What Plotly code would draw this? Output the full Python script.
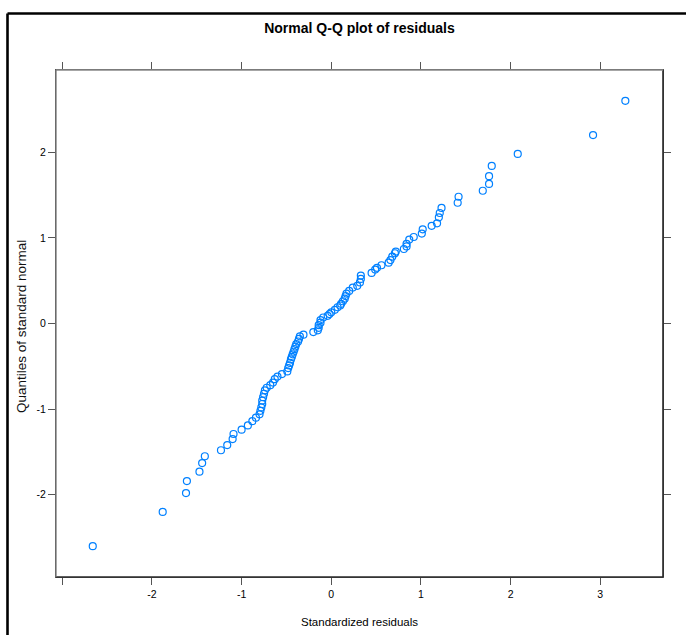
import plotly.graph_objects as go

# Standardized residuals (x) against quantiles of the standard normal (y)
std_residuals = [
    -2.66, -1.88, -1.62, -1.61, -1.47, -1.44, -1.41, -1.23, -1.16, -1.10,
    -1.09, -1.00, -0.93, -0.88, -0.84, -0.80, -0.79, -0.78, -0.77, -0.77,
    -0.76, -0.75, -0.74, -0.72, -0.68, -0.65, -0.63, -0.60, -0.55, -0.49,
    -0.48, -0.47, -0.46, -0.45, -0.44, -0.43, -0.42, -0.41, -0.40, -0.39,
    -0.37, -0.36, -0.35, -0.31, -0.20, -0.15, -0.14, -0.14, -0.12, -0.12,
    -0.09, -0.04, -0.02, 0.00, 0.04, 0.07, 0.10, 0.11, 0.13, 0.15,
    0.16, 0.17, 0.20, 0.24, 0.29, 0.32, 0.33, 0.33, 0.45, 0.49,
    0.51, 0.56, 0.64, 0.66, 0.68, 0.71, 0.72, 0.81, 0.84, 0.84,
    0.87, 0.92, 1.01, 1.02, 1.12, 1.18, 1.20, 1.21, 1.23, 1.41,
    1.42, 1.69, 1.76, 1.76, 1.79, 2.08, 2.92, 3.28,
]
normal_quantiles = [
    -2.60, -2.20, -1.98, -1.84, -1.73, -1.63, -1.55, -1.48, -1.42, -1.35,
    -1.29, -1.24, -1.19, -1.14, -1.10, -1.06, -1.02, -0.98, -0.94, -0.90,
    -0.86, -0.82, -0.78, -0.75, -0.72, -0.69, -0.65, -0.62, -0.59, -0.56,
    -0.52, -0.49, -0.46, -0.42, -0.39, -0.36, -0.33, -0.30, -0.27, -0.24,
    -0.21, -0.18, -0.15, -0.13, -0.10, -0.08, -0.05, -0.02, 0.01, 0.04,
    0.07, 0.09, 0.11, 0.13, 0.16, 0.19, 0.21, 0.23, 0.26, 0.29,
    0.32, 0.35, 0.38, 0.42, 0.44, 0.48, 0.52, 0.56, 0.59, 0.63,
    0.65, 0.68, 0.71, 0.74, 0.78, 0.82, 0.84, 0.87, 0.90, 0.93,
    0.98, 1.01, 1.05, 1.10, 1.14, 1.17, 1.24, 1.29, 1.35, 1.41,
    1.48, 1.55, 1.63, 1.72, 1.84, 1.98, 2.20, 2.60,
]

x_ticks = [-3, -2, -1, 0, 1, 2, 3]
x_tick_labels = ["", "-2", "-1", "0", "1", "2", "3"]
y_ticks = [-2, -1, 0, 1, 2]
y_tick_labels = ["-2", "-1", "0", "1", "2"]

W, H = 686, 635
L, R, T, B = 56, 23, 70, 58
plot_w = W - L - R
plot_h = H - T - B

sans = "Liberation Sans, Arial, sans-serif"

fig = go.Figure()
fig.add_trace(go.Scatter(
    x=std_residuals, y=normal_quantiles, mode="markers",
    marker=dict(symbol="circle-open", size=7, color="#0080ff",
                line=dict(width=1.2, color="#0080ff")),
    showlegend=False, hoverinfo="x+y",
))

axis_common = dict(
    showgrid=False, zeroline=False, showline=True, mirror="ticks",
    linecolor="#555555", linewidth=1.3, ticks="outside", ticklen=7,
    tickwidth=1.2, tickcolor="#555555",
    tickfont=dict(family=sans, size=10.5, color="#000000"),
)

fig.update_layout(
    width=W, height=H, autosize=False,
    margin=dict(l=L, r=R, t=T, b=B, pad=0),
    paper_bgcolor="white", plot_bgcolor="white",
    title=dict(text="<b>Normal Q-Q plot of residuals</b>",
               font=dict(family=sans, size=14, color="#000000"),
               x=0.5, xanchor="center", xref="paper",
               y=1 - 28 / H, yanchor="middle", yref="container"),
    xaxis=dict(range=[-3.07, 3.70], tickvals=x_ticks, ticktext=x_tick_labels,
               **axis_common),
    yaxis=dict(range=[-2.96, 2.96], tickvals=y_ticks, ticktext=y_tick_labels,
               **axis_common),
)


def px_x(p):
    return (p - L) / plot_w


def px_y(p):
    return (T + plot_h - p) / plot_h


# Axis titles
fig.add_annotation(text="Standardized residuals", xref="paper", yref="paper",
                   x=0.5, y=px_y(622), xanchor="center", yanchor="middle",
                   showarrow=False,
                   font=dict(family=sans, size=11.5, color="#000000"))
fig.add_annotation(text="Quantiles of standard normal", xref="paper", yref="paper",
                   x=px_x(22), y=px_y(327), textangle=-90,
                   xanchor="center", yanchor="middle", showarrow=False,
                   font=dict(family=sans, size=13.5, color="#111111"))

# Darker right/bottom panel edges, lighter top/left
fig.add_shape(type="line", xref="paper", yref="paper", x0=1, x1=1, y0=0, y1=1,
              line=dict(color="#2a2a2a", width=1.6))
fig.add_shape(type="line", xref="paper", yref="paper", x0=0, x1=1, y0=0, y1=0,
              line=dict(color="#2a2a2a", width=1.6))
fig.add_shape(type="line", xref="paper", yref="paper", x0=0, x1=1, y0=1, y1=1,
              line=dict(color="#888888", width=1.3))
fig.add_shape(type="line", xref="paper", yref="paper", x0=0, x1=0, y0=0, y1=1,
              line=dict(color="#777777", width=1.3))

# Outer frame: top and left edges
fig.add_shape(type="line", xref="paper", yref="paper",
              x0=px_x(7.5), x1=px_x(W + 2), y0=px_y(13.5), y1=px_y(13.5),
              line=dict(color="#000000", width=2.6))
fig.add_shape(type="line", xref="paper", yref="paper",
              x0=px_x(7.5), x1=px_x(7.5), y0=px_y(13.5), y1=px_y(H + 2),
              line=dict(color="#000000", width=2.6))

fig.write_html("out.html")
